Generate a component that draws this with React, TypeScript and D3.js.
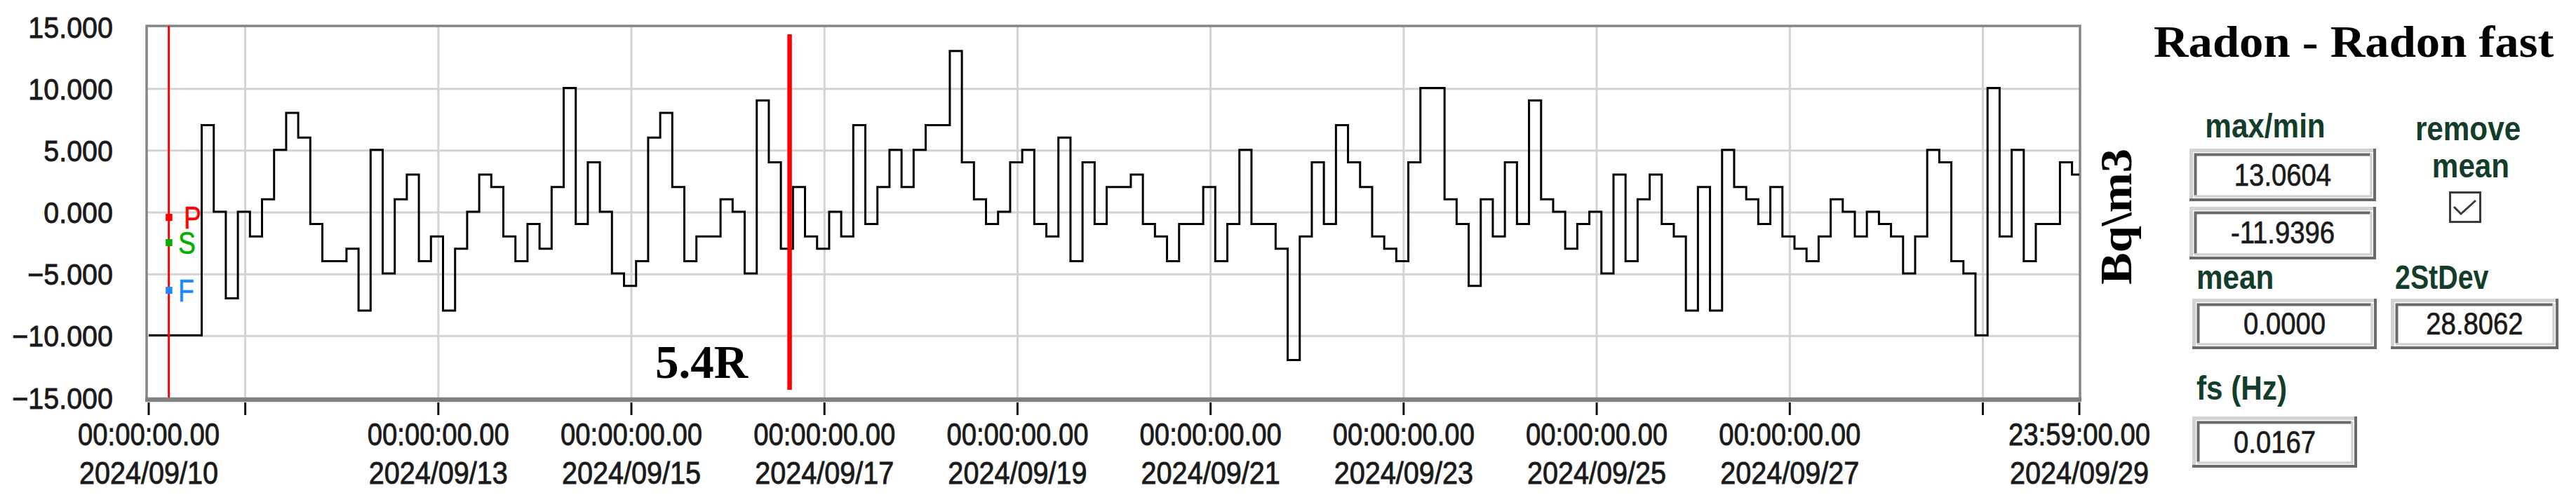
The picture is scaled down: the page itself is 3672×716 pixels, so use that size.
import React, { useEffect, useRef } from 'react'
import * as d3 from 'd3'

// radon, mean removed, one value per 3 hour bin (first bin starts 09/10 01:10)
const radonValues = [
  -9.94, -9.94, -9.94, -9.94,
  7.06, 0.06, -6.94, 0.06, -1.94, 1.06, 5.06, 8.06, 6.06, -0.94,
  -3.94, -3.94, -2.94, -7.94, 5.06, -4.94, 1.06, 3.06, -3.94, -1.94,
  -7.94, -2.94, 0.06, 3.06, 2.06, -1.94, -3.94, -0.94, -2.94, 2.06,
  10.06, -0.94, 4.06, 0.06, -4.94, -5.94, -3.94, 6.06, 8.06, 2.06,
  -3.94, -1.94, -1.94, 1.06, 0.06, -4.94, 9.06, 4.06, -2.94, 2.06,
  -1.94, -2.94, 0.06, -1.94, 7.06, -0.94, 2.06, 5.06, 2.06, 5.06,
  7.06, 7.06, 13.06, 4.06, 1.06, -0.94, 0.06, 4.06, 5.06, -0.94,
  -1.94, 6.06, -3.94, 4.06, -0.94, 2.06, 2.06, 3.06, -0.94, -1.94,
  -3.94, -0.94, -0.94, 2.06, -3.94, -0.94, 5.06, -0.94, -0.94, -2.94,
  -11.94, -1.94, 4.06, -0.94, 7.06, 4.06, 2.06, -1.94, -2.94, -3.94,
  4.06, 10.06, 10.06, 1.06, -0.94, -5.94, 1.06, -1.94, 4.06, -0.94,
  9.06, 1.06, 0.06, -2.94, -0.94, 0.06, -4.94, 3.06, -3.94, 1.06,
  3.06, -0.94, -1.94, -7.94, 2.06, -7.94, 5.06, 2.06, 1.06, -0.94,
  2.06, -1.94, -2.94, -3.94, -1.94, 1.06, 0.06, -1.94, 0.06, -0.94,
  -1.94, -4.94, -1.94, 5.06, 4.06, -3.94, -4.94, -9.94, 10.06, -1.94,
  5.06, -3.94, -0.94, -0.94, 4.06, 3.06,
]

const axisStart = new Date(2024, 8, 10, 0, 0)
const axisEnd = new Date(2024, 8, 29, 23, 59)
const firstBin = new Date(2024, 8, 10, 1, 10)
const binMinutes = 180

const yTicks = [-15, -10, -5, 0, 5, 10, 15]
const yGrid = [-10, -5, 0, 5, 10]

const xTickDays = [10, 11, 13, 15, 17, 19, 21, 23, 25, 27, 29]
const xUnlabelledDays = [11, 29]
const xGridDays = [11, 13, 15, 17, 19, 21, 23, 25, 27, 29]

const eventTimes = [new Date(2024, 8, 10, 5, 0), new Date(2024, 8, 16, 15, 20)]
const eventName = '5.4R'
const phaseNames = ['P', 'S', 'F']
const phaseLevels = [-0.4, -2.44, -6.3]

const chartTitle = 'Radon - Radon fast'
const unitLabel = 'Bq\\m3'
const statValues = ['13.0604', '-11.9396', '0.0000', '28.8062', '0.0167']

const SANS = 'Liberation Sans, Arial, sans-serif'
const SERIF = 'Liberation Serif, Times New Roman, serif'

function txt(g, s, x, y, o: any = {}) {
  const sx = o.sx || 1
  const fill = o.fill || '#1a1a1a'
  const t = g.append('text')
    .attr('transform', `translate(${x},${y})${o.rot ? ' rotate(' + o.rot + ')' : ''} scale(${sx},1)`)
    .attr('font-family', o.family || SANS)
    .attr('font-size', o.size || 44)
    .attr('font-weight', o.weight || 'normal')
    .attr('text-anchor', o.anchor || 'start')
    .attr('fill', fill)
    .text(s)
  // heavier strokes, like the cleartype text of the original
  if (o.heavy) t.attr('stroke', fill).attr('stroke-width', o.heavy)
  return t
}

function bevelBox(g, x0, y0, x1, y1) {
  g.append('rect').attr('x', x0).attr('y', y0).attr('width', x1 - x0).attr('height', y1 - y0).attr('fill', '#fff')
  const ln = (d, c, w) => g.append('path').attr('d', d).attr('fill', 'none').attr('stroke', c).attr('stroke-width', w)
  ln(`M${x0 + 2.5},${y1 - 1} V${y0 + 2.5} H${x1 - 1}`, '#d2d2d2', 5)
  ln(`M${x0 + 8.5},${y1 - 8} V${y0 + 8.5} H${x1 - 8}`, '#6a6a6a', 4)
  ln(`M${x0},${y1 - 2} H${x1 - 2} V${y0}`, '#6a6a6a', 4)
  ln(`M${x0 + 7},${y1 - 7} H${x1 - 7} V${y0 + 7}`, '#d2d2d2', 3.5)
}

export default function App() {
  const ref = useRef<SVGSVGElement>(null)

  useEffect(() => {
    const svg = d3.select(ref.current)
    svg.selectAll('*').remove()

    const left = 209, right = 2965, top = 37, bottom = 570
    const x = d3.scaleTime().domain([axisStart, axisEnd]).range([212, 2964])
    const y = d3.scaleLinear().domain([-15, 15]).range([567.5, 38.5])

    // grid
    const grid = svg.append('g').attr('stroke', '#d3d3d3').attr('stroke-width', 3)
    yGrid.forEach(v => {
      grid.append('line').attr('x1', left).attr('x2', right).attr('y1', y(v)).attr('y2', y(v))
    })
    xGridDays.forEach(d => {
      const px = x(new Date(2024, 8, d))
      grid.append('line').attr('x1', px).attr('x2', px).attr('y1', top).attr('y2', bottom)
    })

    // frame
    svg.append('path')
      .attr('d', `M${left},${bottom} V${top} H${right} V${bottom}`)
      .attr('fill', 'none').attr('stroke', '#858585').attr('stroke-width', 3.5)

    // step series
    const pts = [{ t: axisStart, v: radonValues[0] }]
    radonValues.forEach((v, i) => pts.push({ t: d3.timeMinute.offset(firstBin, i * binMinutes), v }))
    pts.push({ t: axisEnd, v: radonValues[radonValues.length - 1] })
    const line = d3.line<any>().x(d => x(d.t)).y(d => y(d.v)).curve(d3.curveStepAfter)
    svg.append('path').datum(pts)
      .attr('d', line)
      .attr('fill', 'none').attr('stroke', '#000').attr('stroke-width', 3)

    // event lines
    const e0 = x(eventTimes[0])
    svg.append('line').attr('x1', e0).attr('x2', e0).attr('y1', top).attr('y2', bottom)
      .attr('stroke', '#ff0000').attr('stroke-width', 3)
    const e1 = x(eventTimes[1])
    svg.append('line').attr('x1', e1).attr('x2', e1).attr('y1', 49).attr('y2', 556)
      .attr('stroke', '#ff0000').attr('stroke-width', 6.5)
    txt(svg, eventName, 934, 539, { family: SERIF, size: 67, weight: 'bold', fill: '#000' })

    // phase picks
    const phaseColors = ['#ff0000', '#00b000', '#1e88ff']
    phaseNames.forEach((p, i) => {
      const py = y(phaseLevels[i])
      svg.append('rect').attr('x', e0 - 4.5).attr('y', py - 5).attr('width', 9.5).attr('height', 10).attr('fill', phaseColors[i])
      txt(svg, p, p === 'P' ? 262 : 254, py + 16, { size: 44, sx: 0.85, fill: phaseColors[i], heavy: 0.6 })
    })

    // x axis
    svg.append('line').attr('x1', left - 2).attr('x2', right + 2).attr('y1', bottom).attr('y2', bottom)
      .attr('stroke', '#808080').attr('stroke-width', 6.5)
    const tickDates = xTickDays.map(d => new Date(2024, 8, d)).concat([axisEnd])
    const fTime = d3.timeFormat('%H:%M:%S.00')
    const fDate = d3.timeFormat('%Y/%m/%d')
    tickDates.forEach(t => {
      const px = x(t)
      svg.append('line').attr('x1', px).attr('x2', px).attr('y1', 574).attr('y2', 592)
        .attr('stroke', '#111').attr('stroke-width', 3)
      const skip = t.getHours() === 0 && xUnlabelledDays.includes(t.getDate())
      if (skip) return
      txt(svg, fTime(t), px, 635, { anchor: 'middle', sx: 0.87, heavy: 0.9 })
      txt(svg, fDate(t), px, 690, { anchor: 'middle', sx: 0.9, heavy: 0.9 })
    })

    // y axis labels
    const fY = d3.format('.3f')
    yTicks.forEach(v => {
      txt(svg, fY(v), 161, y(v) + 15, { anchor: 'end', size: 42, sx: 0.94, heavy: 0.9 })
    })

    // unit + title
    txt(svg, unitLabel, 3038, 309, { family: SERIF, size: 64, weight: 'bold', anchor: 'middle', rot: -90, sx: 1.07, fill: '#000' })
    txt(svg, chartTitle, 3070, 81, { family: SERIF, size: 63, weight: 'bold', sx: 1.09, fill: '#000' })

    // stats panel
    const lab = { size: 48, weight: 'bold', sx: 0.88, fill: '#123d2a' }
    txt(svg, 'max/min', 3229, 196, { ...lab, anchor: 'middle' })
    txt(svg, 'remove', 3518, 200, { ...lab, anchor: 'middle' })
    txt(svg, 'mean', 3522, 253, { ...lab, anchor: 'middle' })
    txt(svg, 'mean', 3131, 412, lab)
    txt(svg, '2StDev', 3414, 412, { ...lab, sx: 0.82 })
    txt(svg, 'fs (Hz)', 3131, 570, lab)

    const boxes = [
      [3121, 212, 3387, 287, 265],
      [3121, 295, 3387, 370, 347],
      [3125, 426, 3388, 498, 477],
      [3408, 426, 3647, 498, 477],
      [3125, 594, 3360, 667, 646],
    ]
    boxes.forEach((b, i) => {
      bevelBox(svg, b[0], b[1], b[2], b[3])
      txt(svg, statValues[i], (b[0] + b[2]) / 2, b[4], { anchor: 'middle', size: 44, sx: 0.87, heavy: 0.7 })
    })

    // checkbox
    svg.append('rect').attr('x', 3492.5).attr('y', 274.5).attr('width', 43).attr('height', 42)
      .attr('fill', '#fff').attr('stroke', '#3a3a3a').attr('stroke-width', 3)
    svg.append('path').attr('d', 'M3498,295 L3508,305 L3529,286')
      .attr('fill', 'none').attr('stroke', '#3a3a3a').attr('stroke-width', 3)
  }, [])

  return (
    <div style={{ position: 'absolute', left: 0, top: 0 }}>
      <svg ref={ref} width={3672} height={716} style={{ display: 'block', background: '#fff' }} />
    </div>
  )
}
